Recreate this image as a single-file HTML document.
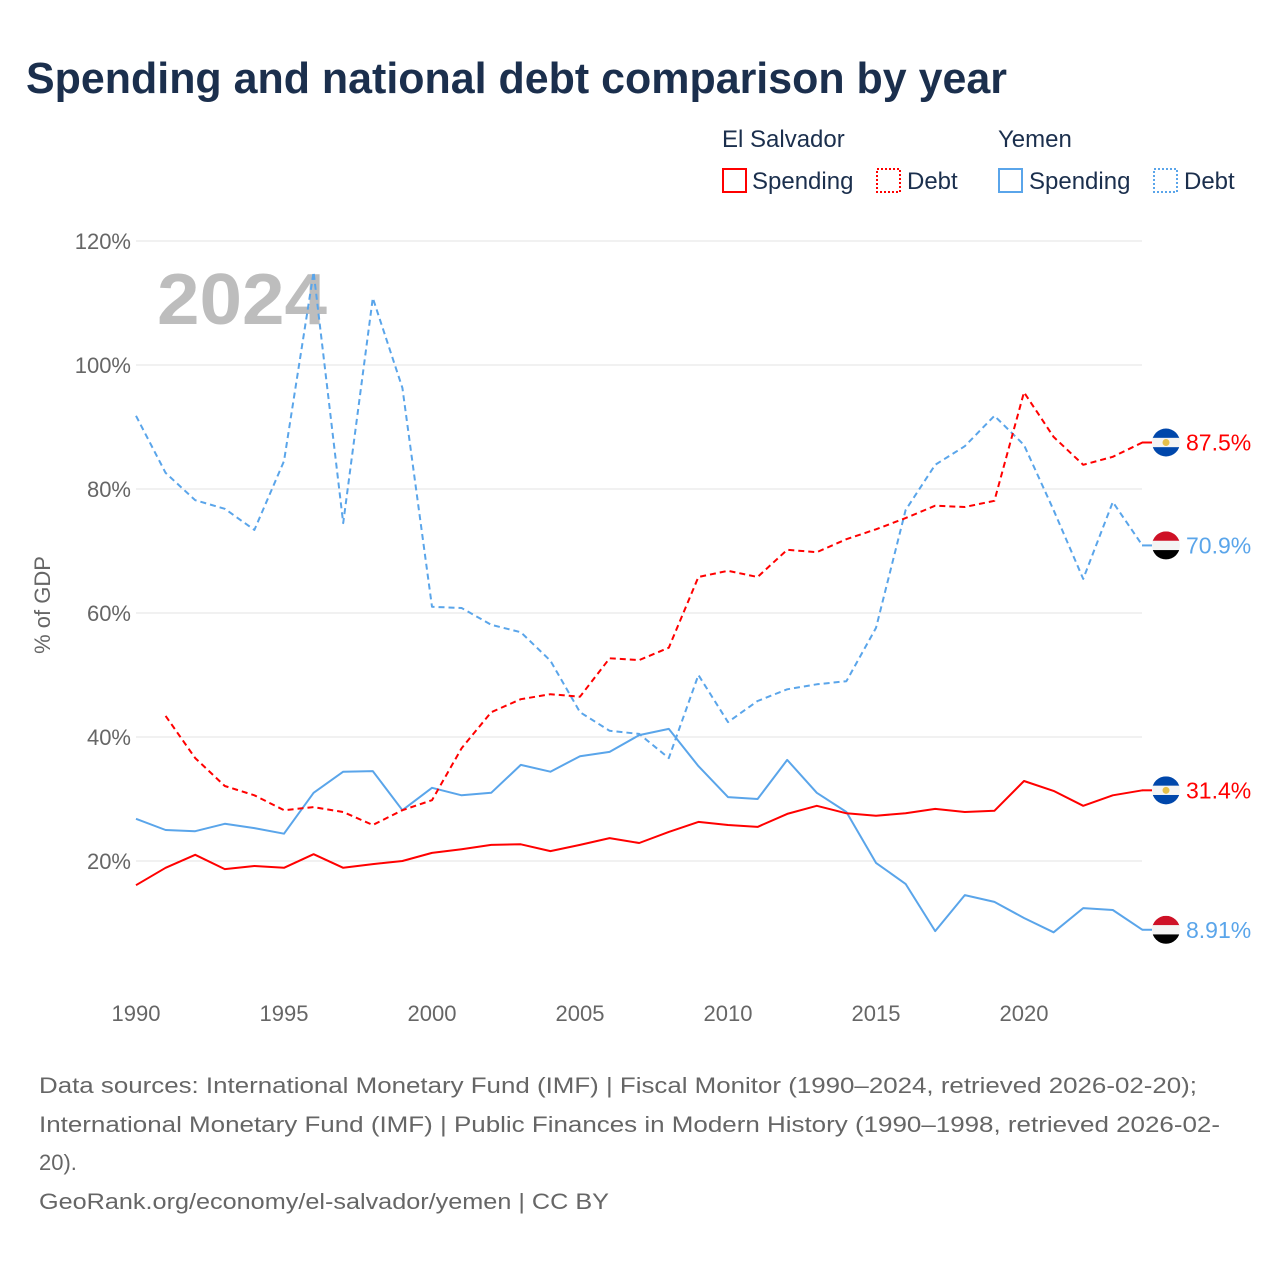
<!DOCTYPE html>
<html><head><meta charset="utf-8"><style>
body{margin:0;background:#fff;width:1280px;height:1280px;overflow:hidden;font-family:"Liberation Sans",sans-serif}
</style></head><body>
<svg id="c" width="1280" height="1280" xmlns="http://www.w3.org/2000/svg">
<text x="26" y="93" font-size="44" font-weight="bold" fill="#1b2f4d" textLength="981" lengthAdjust="spacingAndGlyphs">Spending and national debt comparison by year</text>
<g font-size="24" fill="#1b2f4d">
<text x="722" y="147">El Salvador</text>
<text x="998" y="147">Yemen</text>
<rect x="723" y="169" width="23" height="23" fill="none" stroke="#f00" stroke-width="2"/>
<text x="752" y="189">Spending</text>
<rect x="877" y="169" width="23" height="23" fill="none" stroke="#f00" stroke-width="2" stroke-dasharray="2,2"/>
<text x="907" y="189">Debt</text>
<rect x="999" y="169" width="23" height="23" fill="none" stroke="#5aa5ea" stroke-width="2"/>
<text x="1029" y="189">Spending</text>
<rect x="1154" y="169" width="23" height="23" fill="none" stroke="#5aa5ea" stroke-width="2" stroke-dasharray="2,2"/>
<text x="1184" y="189">Debt</text>
</g>
<text x="157" y="324" font-size="72" font-weight="bold" fill="#bdbdbd" textLength="170" lengthAdjust="spacingAndGlyphs">2024</text>
<text transform="translate(50,605) rotate(-90)" text-anchor="middle" font-size="22" fill="#666">% of GDP</text>
<g id="grid"></g><g id="lines"></g><g id="ends"></g>
<g font-size="22" fill="#666">
<text x="39" y="1093" textLength="1158" lengthAdjust="spacingAndGlyphs">Data sources: International Monetary Fund (IMF) | Fiscal Monitor (1990–2024, retrieved 2026-02-20);</text>
<text x="39" y="1132" textLength="1181" lengthAdjust="spacingAndGlyphs">International Monetary Fund (IMF) | Public Finances in Modern History (1990–1998, retrieved 2026-02-</text>
<text x="39" y="1170">20).</text>
<text x="39" y="1209" textLength="570" lengthAdjust="spacingAndGlyphs">GeoRank.org/economy/el-salvador/yemen | CC BY</text>
</g>
</svg>
<script>
const years=[];for(let y=1990;y<=2024;y++)years.push(y);
const yTicks=[20,40,60,80,100,120];
const xTicks=[1990,1995,2000,2005,2010,2015,2020];
const esSpending=[16.1,18.9,21,18.7,19.2,18.9,21.1,18.9,19.5,20,21.3,21.9,22.6,22.7,21.6,22.6,23.7,22.9,24.7,26.3,25.8,25.5,27.6,28.9,27.7,27.3,27.7,28.4,27.9,28.1,32.9,31.3,28.9,30.6,31.4];
const esDebt=[null,43.4,36.6,32.1,30.6,28.2,28.7,27.9,25.8,28.2,29.8,38.2,44,46.1,46.9,46.5,52.7,52.4,54.4,65.8,66.8,65.8,70.2,69.8,71.9,73.5,75.3,77.3,77.1,78.1,95.6,88.4,83.9,85.2,87.5];
const yeSpending=[26.8,25,24.8,26,25.3,24.4,31,34.4,34.5,28.2,31.8,30.6,31,35.5,34.4,36.9,37.6,40.3,41.3,35.3,30.3,30,36.3,31,27.9,19.7,16.3,8.7,14.5,13.4,10.8,8.5,12.4,12.1,8.91];
const yeDebt=[91.8,82.6,78.2,76.8,73.4,84.5,115,74.5,110.8,96.3,61,60.8,58.1,56.9,52.3,44,41,40.5,36.6,50,42.4,45.8,47.7,48.5,49,57.6,76.6,83.9,86.9,91.8,87.1,76.6,65.5,77.9,70.9];
const NS="http://www.w3.org/2000/svg";
const X=y=>136+(y-1990)*29.6;
const Y=v=>985-v*6.2;
function mk(t,a,p){const e=document.createElementNS(NS,t);for(const k in a)e.setAttribute(k,a[k]);p.appendChild(e);return e;}
const grid=document.getElementById('grid');
yTicks.forEach(v=>{
 const l=mk('line',{x1:136,x2:1142,y1:Y(v),y2:Y(v),stroke:'#e3e3e3','stroke-width':1},grid);
 
 
 const t=mk('text',{x:131,y:Y(v)+8,'text-anchor':'end','font-size':22,fill:'#666'},grid);
 t.textContent=v+'%';
 
 
});
xTicks.forEach(v=>{
 const t=mk('text',{x:X(v),y:1021,'text-anchor':'middle','font-size':22,fill:'#666'},grid);
 t.textContent=v;
 
 
});
const lines=document.getElementById('lines');
function series(d,c,dash,name){
 let s='';d.forEach((v,i)=>{if(v==null)return;s+=(s?'L':'M')+X(years[i]).toFixed(1)+','+Y(v).toFixed(1);});
 const p=mk('path',{d:s,fill:'none',stroke:c,'stroke-width':2,'stroke-dasharray':dash||'none','stroke-linejoin':'round'},lines);
 
 
}
series(yeDebt,'#5aa5ea','6,4','line-yemen-debt');
series(yeSpending,'#5aa5ea',null,'line-yemen-spending');
series(esDebt,'#f00','6,4','line-el-salvador-debt');
series(esSpending,'#f00',null,'line-el-salvador-spending');
const ends=document.getElementById('ends');
function flag(v,country,color,label,name){
 const cy=Y(v),cx=1166,g=mk('g',{},ends);
 
 
 mk('line',{x1:1142,x2:1152,y1:cy,y2:cy,stroke:color,'stroke-width':2},g);
 const id='cp'+name;
 const cp=mk('clipPath',{id:id},g);mk('circle',{cx:cx,cy:cy,r:14},cp);
 const cols=country==='es'?['#0047ab','#f4f4f4','#0047ab']:['#ce1126','#f4f4f4','#000'];
 cols.forEach((c,i)=>mk('rect',{x:cx-14,y:cy-14+i*28/3,width:28,height:28/3+0.5,fill:c,'clip-path':'url(#'+id+')'},g));
 if(country==='es')mk('circle',{cx:cx,cy:cy,r:3.5,fill:'#e6c04a'},g);
 const t=mk('text',{x:1186,y:cy+8,'font-size':23,fill:color},g);
 t.textContent=label;
}
flag(esDebt[34],'es','#f00','87.5%','end-label-es-debt');
flag(yeDebt[34],'ye','#5aa5ea','70.9%','end-label-ye-debt');
flag(esSpending[34],'es','#f00','31.4%','end-label-es-spending');
flag(yeSpending[34],'ye','#5aa5ea','8.91%','end-label-ye-spending');
</script>
</body></html>
